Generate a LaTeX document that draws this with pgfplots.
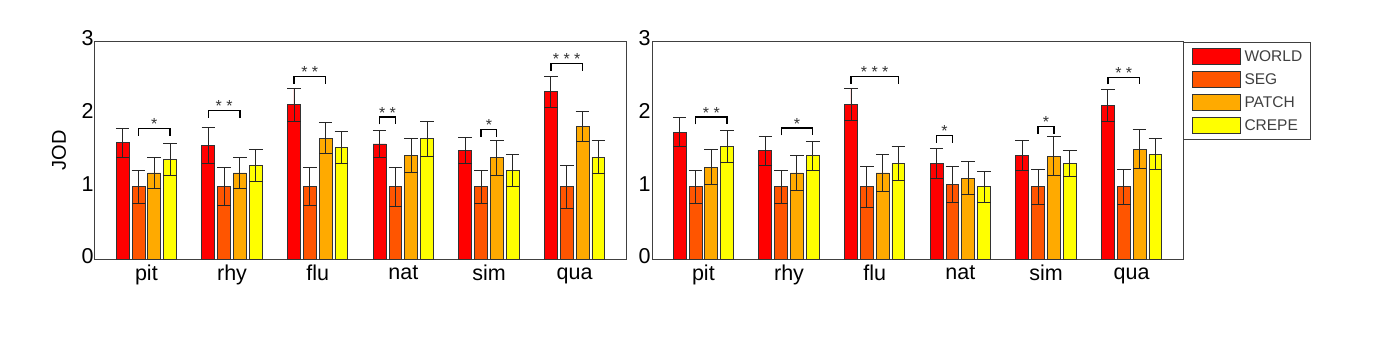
\documentclass[border=0pt]{standalone}
\usepackage{fontspec}
\setmainfont{Liberation Sans}
\usepackage{pgfplots}
\usepackage{pgfplotstable}
\pgfplotsset{compat=1.18}

\definecolor{cworld}{rgb}{1,0,0}
\definecolor{cseg}{rgb}{1,0.333,0}
\definecolor{cpatch}{rgb}{1,0.667,0}
\definecolor{ccrepe}{rgb}{1,1,0}
\definecolor{edge}{gray}{0.2}

% left panel: mean JOD and error per method
\pgfplotstableread{
g w    we   s    se   p    pe   c    ce
1 1.61 0.20 1.00 0.23 1.19 0.21 1.38 0.22
2 1.57 0.25 1.00 0.26 1.19 0.21 1.29 0.22
3 2.13 0.23 1.00 0.26 1.67 0.21 1.54 0.22
4 1.59 0.19 1.00 0.27 1.43 0.23 1.66 0.24
5 1.50 0.18 1.00 0.23 1.40 0.24 1.23 0.22
6 2.31 0.21 1.00 0.30 1.83 0.21 1.41 0.23
}\tabA

% right panel
\pgfplotstableread{
g w    we   s    se   p    pe   c    ce
1 1.75 0.20 1.00 0.23 1.27 0.24 1.56 0.22
2 1.50 0.20 1.00 0.23 1.19 0.24 1.43 0.20
3 2.13 0.22 1.00 0.28 1.19 0.26 1.32 0.23
4 1.32 0.21 1.03 0.25 1.12 0.23 1.00 0.21
5 1.43 0.21 1.00 0.24 1.42 0.27 1.32 0.18
6 2.12 0.22 1.00 0.24 1.52 0.27 1.45 0.21
}\tabB

\pgfplotsset{
  jodaxis/.style={
    scale only axis, width=531pt, height=217.6pt,
    xmin=0.4, xmax=6.6, ymin=0, ymax=3,
    xtick={1,...,6}, xticklabels={pit,rhy,flu,nat,sim,qua},
    ytick={0,1,2,3},
    major tick length=0pt,
    typeset ticklabels with strut,
    axis line style={draw=black!75, line width=1pt},
    tick label style={font=\fontsize{21.5}{21.5}\selectfont},
    xticklabel style={yshift=-2pt},
    yticklabel style={xshift=2pt},
    /pgf/number format/assume math mode=true,
    legend image code/.code={\draw[#1,draw=edge,line width=1pt] (0pt,-7.8pt) rectangle (48pt,7.8pt);},
  },
  jodbar/.style={ybar, bar width=0.15, bar shift=0pt, fill=#1, draw=edge, line width=0.8pt,
    error bars/.cd, y dir=both, y explicit,
    error bar style={draw=black!85, line width=0.9pt},
    error mark options={rotate=90, mark size=6.8pt, draw=black!85, line width=0.9pt}},
  sig/.style={draw=black, line width=1.3pt, forget plot},
}
\tikzset{star/.style={anchor=base, inner sep=0pt, yshift=-1pt, text=black!80, font=\fontsize{16}{16}\selectfont}}

\begin{document}
\begin{tikzpicture}
\begin{axis}[jodaxis, at={(0pt,0pt)},
  ylabel={JOD},
  y label style={at={(axis description cs:-0.0678,0.5)}, anchor=center, font=\fontsize{20}{20}\selectfont},
]
\addplot[jodbar=cworld] table[x expr=\thisrow{g}-0.277, y=w, y error=we] {\tabA};
\addplot[jodbar=cseg]   table[x expr=\thisrow{g}-0.092, y=s, y error=se] {\tabA};
\addplot[jodbar=cpatch] table[x expr=\thisrow{g}+0.092, y=p, y error=pe] {\tabA};
\addplot[jodbar=ccrepe] table[x expr=\thisrow{g}+0.277, y=c, y error=ce] {\tabA};

\addplot[sig] coordinates {(0.908,1.70) (0.908,1.80) (1.277,1.80) (1.277,1.70)};
\node[star] at (axis cs:1.0925,1.80) {*};
\addplot[sig] coordinates {(1.723,1.95) (1.723,2.05) (2.092,2.05) (2.092,1.95)};
\node[star] at (axis cs:1.9075,2.05) {* *};
\addplot[sig] coordinates {(2.723,2.42) (2.723,2.52) (3.092,2.52) (3.092,2.42)};
\node[star] at (axis cs:2.9075,2.52) {* *};
\addplot[sig] coordinates {(3.723,1.86) (3.723,1.96) (3.908,1.96) (3.908,1.86)};
\node[star] at (axis cs:3.815,1.96) {* *};
\addplot[sig] coordinates {(4.908,1.69) (4.908,1.79) (5.092,1.79) (5.092,1.69)};
\node[star] at (axis cs:5.0,1.79) {*};
\addplot[sig] coordinates {(5.723,2.60) (5.723,2.70) (6.092,2.70) (6.092,2.60)};
\node[star] at (axis cs:5.9075,2.70) {* * *};
\end{axis}

\begin{axis}[jodaxis, at={(557pt,0pt)},
  legend entries={WORLD,SEG,PATCH,CREPE},
  legend cell align=left,
  legend style={at={(1,1)}, anchor=north west, draw=black!75, line width=1pt, fill=white,
    inner xsep=8pt, inner ysep=6pt, row sep=6.4pt, column sep=4pt,
    font=\fontsize{15.5}{15.5}\selectfont, text=black!75,
    nodes={inner sep=0pt, minimum height=15.7pt}},
]
\addplot[jodbar=cworld] table[x expr=\thisrow{g}-0.277, y=w, y error=we] {\tabB};
\addplot[jodbar=cseg]   table[x expr=\thisrow{g}-0.092, y=s, y error=se] {\tabB};
\addplot[jodbar=cpatch] table[x expr=\thisrow{g}+0.092, y=p, y error=pe] {\tabB};
\addplot[jodbar=ccrepe] table[x expr=\thisrow{g}+0.277, y=c, y error=ce] {\tabB};

\addplot[sig] coordinates {(0.908,1.86) (0.908,1.96) (1.277,1.96) (1.277,1.86)};
\node[star] at (axis cs:1.0925,1.96) {* *};
\addplot[sig] coordinates {(1.908,1.71) (1.908,1.81) (2.277,1.81) (2.277,1.71)};
\node[star] at (axis cs:2.0925,1.81) {*};
\addplot[sig] coordinates {(2.723,2.42) (2.723,2.52) (3.277,2.52) (3.277,2.42)};
\node[star] at (axis cs:3.0,2.52) {* * *};
\addplot[sig] coordinates {(3.723,1.61) (3.723,1.71) (3.908,1.71) (3.908,1.61)};
\node[star] at (axis cs:3.815,1.71) {*};
\addplot[sig] coordinates {(4.908,1.73) (4.908,1.83) (5.092,1.83) (5.092,1.73)};
\node[star] at (axis cs:5.0,1.83) {*};
\addplot[sig] coordinates {(5.723,2.41) (5.723,2.51) (6.092,2.51) (6.092,2.41)};
\node[star] at (axis cs:5.9075,2.51) {* *};
\end{axis}

% page margins of the original figure
\path (-95pt,-84.7pt) rectangle (1302pt,259.3pt);
\end{tikzpicture}
\end{document}
